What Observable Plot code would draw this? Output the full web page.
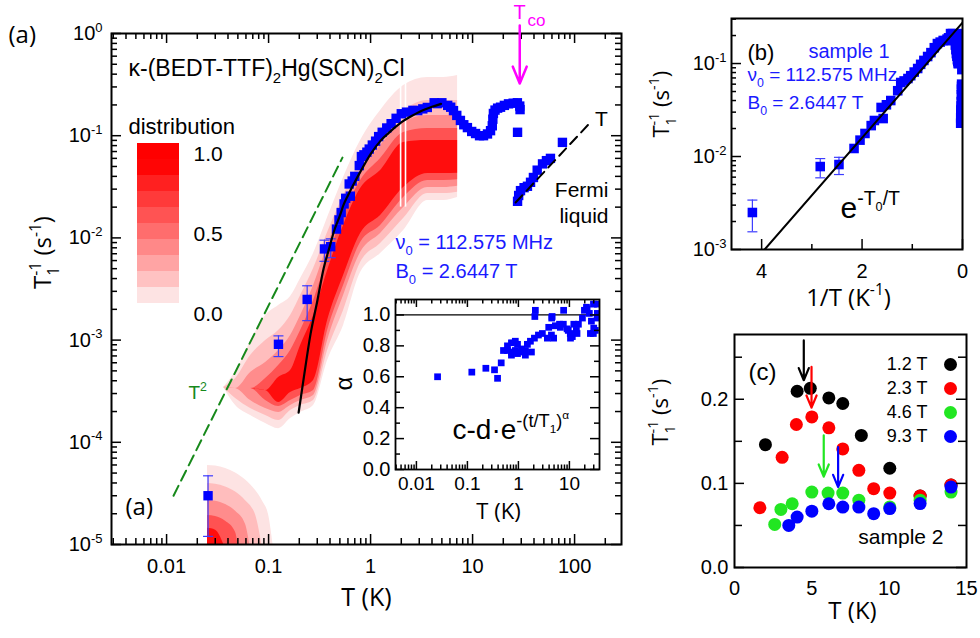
<!DOCTYPE html>
<html><head><meta charset="utf-8">
<script src="https://cdn.jsdelivr.net/npm/d3@7"></script>
<script src="https://cdn.jsdelivr.net/npm/@observablehq/plot@0.6"></script>
<style>
html,body{margin:0;padding:0;background:#fff;}
#chart{position:relative;width:980px;height:638px;overflow:hidden;background:#fff;}
#chart svg{position:absolute;left:0;top:0;}
</style></head><body><div id="chart"></div>
<script>
// ---------------- data ----------------
// sample 1: [T (K), 1/T1 (s^-1)]
const sample1 = [
 [0.0255,3.0e-5],[0.125,9.1e-4],[0.239,2.5e-3],[0.353,7.8e-3],[0.4065,8.2e-3],
 [0.463,1.22e-2],[0.49,1.5e-2],[0.515,1.77e-2],[0.55,2.15e-2],[0.57,2.44e-2],[0.633,2.56e-2],
 [0.617,3.37e-2],[0.66,3.6e-2],[0.70,4.0e-2],[0.775,5.1e-2],[0.813,6.25e-2],[0.86,6.5e-2],
 [0.92,6.9e-2],[0.97,7.4e-2],[1.04,8.1e-2],[1.12,8.84e-2],[1.2,9.8e-2],[1.3,0.108],[1.44,0.119],
 [1.59,0.131],[1.78,0.148],[2.0,0.164],[2.25,0.17],[2.6,0.177],[2.9,0.176],[3.25,0.183],[3.6,0.189],
 [4.2,0.21],[4.5,0.206],[5.0,0.21],[5.7,0.198],[6.1,0.19],[6.5,0.176],[7.0,0.158],[7.6,0.141],
 [8.2,0.128],[8.9,0.12],[9.8,0.11],[10.7,0.105],[11.7,0.1],[12.8,0.1],[14.0,0.104],[15.0,0.112],
 [15.6,0.125],[15.8,0.145],[16.0,0.165],[16.6,0.178],[17.6,0.186],[18.8,0.19],[20.5,0.198],
 [22.5,0.205],[25.0,0.208],[27.5,0.21],[29.0,0.195],[29.2,0.18],[27.6,0.108],
 [27.6,0.0228],[28.3,0.026],[29.5,0.029],[32.0,0.031],[34.5,0.032],[37.0,0.035],[39.5,0.039],
 [43.0,0.046],[48.5,0.053],[53.0,0.057],[58.0,0.060],[76.0,0.086]
];
// error bars: [T, low, high]
const sample1Err = [[0.0255,1.2e-5,4.7e-5],[0.125,6.9e-4,1.1e-3],[0.239,1.55e-3,3.4e-3],[0.353,5.9e-3,9.5e-3],[0.4065,6.4e-3,9.8e-3]];
// activated fit e^{-T0/T}
const fitA = [[0.197,1.95e-4],[0.22,4.1e-4],[0.258,1.15e-3],[0.3,2.4e-3],[0.346,5.0e-3],[0.4,8.4e-3],[0.434,1.13e-2],
 [0.5,1.65e-2],[0.543,2.1e-2],[0.6,2.6e-2],[0.666,3.2e-2],[0.8,4.5e-2],[1.0,6.6e-2],[1.25,8.9e-2],[1.5,0.106],
 [2.0,0.135],[2.5,0.155],[3.0,0.171],[4.0,0.192],[4.9,0.205]];
const fitB = [[3.94,1.0e-3],[0,0.275]];           // [1/T, rate]
const powerT2 = [[0.0117,3.0e-5],[0.53,6.1e-2]];  // T^2 guide
const fermiT = [[26.4,0.0222],[143,0.135]];       // T guide
const tcoArrow = [{T: 29, from: 1.2, to: 0.324}];
// relaxation-rate distribution, main branch: [T, lo1,hi1, lo2,hi2, lo3,hi3, lo4,hi4, lo5,hi5]
const distMain = [
 [0.0362,3.44e-4,3.44e-4,3.44e-4,3.44e-4,3.44e-4,3.44e-4,3.44e-4,3.44e-4,3.44e-4,3.44e-4],
 [0.0475,2.29e-4,4.93e-4,2.68e-4,4.21e-4,3.36e-4,3.36e-4,3.36e-4,3.36e-4,3.36e-4,3.36e-4],
 [0.0666,1.83e-4,9.69e-4,2.14e-4,7.07e-4,2.56e-4,4.82e-4,3.36e-4,3.36e-4,3.36e-4,3.36e-4],
 [0.0935,1.53e-4,1.74e-3,1.83e-4,9.9e-4,2.14e-4,6.04e-4,2.56e-4,4.21e-4,3.21e-4,3.21e-4],
 [0.1253,1.36e-4,2.18e-3,1.63e-4,1.24e-3,1.96e-4,7.91e-4,2.24e-4,5.64e-4,2.45e-4,4.31e-4],
 [0.1643,1.71e-4,2.67e-3,2.05e-4,1.74e-3,2.29e-4,1.11e-3,2.56e-4,7.91e-4,3.07e-4,5.04e-4],
 [0.206,1.96e-4,4.01e-3,2.29e-4,2.73e-3,2.56e-4,1.74e-3,2.87e-4,1.24e-3,3.36e-4,8.86e-4],
 [0.276,2.29e-4,7.04e-3,2.56e-4,5.02e-3,2.87e-4,3.42e-3,3.21e-4,2.44e-3,4.02e-4,1.74e-3],
 [0.379,6.32e-4,1.58e-2,7.91e-4,1.13e-2,9.9e-4,8.43e-3,1.24e-3,6.29e-3,1.555e-3,4.8e-3],
 [0.5435,1.39e-3,3.9e-2,1.95e-3,2.6e-2,2.73e-3,2.07e-2,3.42e-3,1.656e-2,4.29e-3,1.32e-2],
 [0.798,4.59e-3,8.97e-2,5.74e-3,5.72e-2,7.2e-3,4.36e-2,9.01e-3,3.64e-2,1.104e-2,3.04e-2],
 [1.253,7.04e-3,0.1764,8.81e-3,0.1124,1.104e-2,8.02e-2,1.322e-2,5.98e-2,1.656e-2,4.56e-2],
 [2.106,1.181e-2,0.31,1.548e-2,0.1764,1.98e-2,0.1346,2.48e-2,0.1075,3.11e-2,8.58e-2],
 [3.62,2.32e-2,0.371,2.72e-2,0.221,3.11e-2,0.1576,3.64e-2,0.1176,4.27e-2,8.97e-2],
 [5.2,2.32e-2,0.371,2.72e-2,0.221,3.11e-2,0.1576,3.64e-2,0.1176,4.27e-2,8.97e-2],
 [7.13,2.48e-2,0.388,2.8e-2,0.221,3.2e-2,0.1576,3.7e-2,0.1176,4.3e-2,8.97e-2]
];
// low-temperature branch (upper edge of each level): [T, hi]
const distBlob = [
 [[0.0252,5.93e-5],[0.0302,5.85e-5],[0.0379,5.54e-5],[0.0475,5.01e-5],[0.0595,4.27e-5],[0.0746,3.37e-5],[0.0873,2.65e-5],[0.1,1.95e-5],[0.112,9e-6]],
 [[0.0252,3.95e-5],[0.0302,3.89e-5],[0.0379,3.66e-5],[0.0475,3.26e-5],[0.0595,2.68e-5],[0.0746,1.94e-5],[0.0873,9e-6]],
 [[0.0252,2.69e-5],[0.0302,2.65e-5],[0.0379,2.46e-5],[0.0475,2.11e-5],[0.0595,1.57e-5],[0.0666,9e-6]],
 [[0.0252,1.92e-5],[0.0302,1.88e-5],[0.0379,1.69e-5],[0.0475,1.31e-5],[0.0508,9e-6]],
 [[0.0252,1.44e-5],[0.0302,1.38e-5],[0.0379,9e-6]]
];
const distGaps = [1.97, 2.2];
const distColors = ["#fde3e3","#ffbdbd","#ff8c8c","#ff5252","#ff0d0d"];
const legendLevels = [0.0,0.1,0.2,0.3,0.4,0.5,0.6,0.7,0.8,0.9];
const legendColors = ["#fde3e3","#ffc2c2","#ffa4a4","#ff8888","#ff6d6d","#ff5353","#ff3a3a","#ff2020","#ff0505","#ff0000"];
const legendTicks = [0.0, 0.5, 1.0];
// inset: stretch exponent alpha vs T
const alphaData = [
 [0.026,0.60],[0.122,0.63],[0.23,0.655],[0.34,0.645],[0.39,0.59],[0.46,0.69],
 [0.51,0.77],[0.61,0.77],[0.73,0.76],[0.87,0.77],[1.15,0.76],[1.37,0.77],
 [0.61,0.80],[0.73,0.82],[0.87,0.83],[0.96,0.81],[0.73,0.74],[0.96,0.75],[1.37,0.74],[1.8,0.76],
 [1.15,0.78],[1.5,0.81],[1.72,0.83],[2.06,0.85],[2.47,0.87],[2.95,0.88],[3.7,0.85],[4.44,0.87],
 [3.93,0.92],[4.9,0.85],[2.1,0.99],[2.15,1.03],[4.5,0.98],[4.58,0.99],
 [5.3,0.93],[6.4,0.94],[6.65,0.92],[7.6,0.94],[7.7,1.03],[9.0,0.91],[9.5,0.90],[10.4,0.88],[10.5,0.85],
 [11.4,0.86],[12.2,0.94],[13.7,0.90],[14.1,0.88],[15,0.94],[18,0.98],[19.7,1.03],[21.6,1.05],[22.2,1.04],
 [24.6,1.01],[25.8,0.88],[27,0.96],[29.5,0.88],[30,0.915],[32.2,0.90],[29.6,1.07],[35,0.98],[35.3,1.07],[35.3,1.01]
];
// sample 2 (panel c): [T, rate]
const fieldLabels = ["1.2 T","2.3 T","4.6 T","9.3 T"];
const fieldColors = ["#000000","#ff0000","#22e622","#0000ff"];
const s2_12 = [[2.0,0.146],[4.05,0.2095],[4.9,0.213],[6.1,0.2016],[7.0,0.195],[8.2,0.157],[10.04,0.118],[12.0,0.085],[14.0,0.098]];
const s2_23 = [[1.64,0.071],[3.08,0.131],[4.0,0.170],[5.0,0.179],[6.1,0.166],[7.0,0.141],[8.04,0.1155],[9.0,0.0937],[10.04,0.0885],[12.0,0.085],[14.0,0.098]];
const s2_46 = [[2.6,0.0512],[3.0,0.069],[3.73,0.0758],[5.0,0.0897],[6.05,0.0885],[7.0,0.0885],[8.04,0.080],[10.04,0.072],[12.0,0.080],[14.0,0.0897]];
const s2_93 = [[3.51,0.050],[4.05,0.060],[5.0,0.067],[6.1,0.0758],[7.0,0.0718],[8.04,0.0718],[9.0,0.064],[10.04,0.070],[12.0,0.076],[14.0,0.0956]];
const fieldSeries = [s2_12, s2_23, s2_46, s2_93];
const fieldArrows = [
 {T:4.48, from:0.270, to:0.2226, color:"#000000"},
 {T:4.98, from:0.2385, to:0.19, color:"#ff0000"},
 {T:5.77, from:0.157, to:0.108, color:"#22e622"},
 {T:6.7, from:0.143, to:0.0956, color:"#0000ff"}
];
// ticks
const xMajorA = [0.01,0.1,1,10,100];
const yMajorA = [1e-5,1e-4,1e-3,1e-2,1e-1,1];
const insetXMajor = [0.01,0.1,1,10];
const insetYMajor = [0,0.2,0.4,0.6,0.8,1.0];
const insetYMinor = [0.1,0.3,0.5,0.7,0.9];
const bXMajor = [0,2,4], bXMinor = [1,3];
const bYMajor = [1e-3,1e-2,1e-1];
const cXMajor = [0,5,10,15];
const cYMajor = [0,0.1,0.2], cYMinor = [0.05,0.15,0.25];

// ---------------- helpers ----------------
const W = 980, H = 638;
const SANS = "'Liberation Sans', Arial, Helvetica, sans-serif";
const OPEN = "'Open Sans', 'Liberation Sans', sans-serif";
const BLUE = "#0000ff", ERR = "#3c3cff", TXTBLUE = "#1a1aff", GREEN = "#17891b", MAGENTA = "#ff00ff";
const baseStyle = {background: "transparent", fontFamily: SANS, fontSize: "20px", color: "black", overflow: "visible"};
const cap = {draw(ctx, size) { const w = Math.sqrt(size / Math.PI); ctx.moveTo(-w, 0); ctx.lineTo(w, 0); }};
function logMinor(lo, hi) {
  const out = [];
  for (let e = Math.floor(Math.log10(lo)); e <= Math.ceil(Math.log10(hi)); e++)
    for (let m = 2; m <= 9; m++) { const v = m * Math.pow(10, e); if (v >= lo && v <= hi) out.push(v); }
  return out;
}
function tx(vals, len, innerH, side) {
  return Plot.ruleX(vals, {x: d => d, insetTop: side === "bottom" ? innerH - len : 0, insetBottom: side === "top" ? innerH - len : 0, stroke: "black", strokeWidth: 1.5});
}
function ty(vals, len, innerW, side) {
  return Plot.ruleY(vals, {y: d => d, insetLeft: side === "right" ? innerW - len : 0, insetRight: side === "left" ? innerW - len : 0, stroke: "black", strokeWidth: 1.5});
}
function label(str, o) { return Plot.text([str], {text: d => d, ...o}); }
const pow10 = d => `10^{${Math.round(Math.log10(d))}}`;

function richify(svg) {
  for (const t of svg.querySelectorAll("text")) {
    if (t.children.length) continue;
    const s = t.textContent;
    if (!/[\^_]\{/.test(s)) continue;
    const base = parseFloat(getComputedStyle(t).fontSize) || 16;
    const runs = [], stack = [{size: base, off: 0, group: null}];
    let buf = "", justClosed = null;
    const flush = () => { if (buf) { const st = stack[stack.length - 1]; runs.push({text: buf, size: st.size, off: st.off, group: st.group}); buf = ""; } };
    for (let i = 0; i < s.length; i++) {
      const c = s[i];
      if ((c === "^" || c === "_") && s[i + 1] === "{") {
        flush();
        const st = stack[stack.length - 1];
        const g = {kind: c, stackOn: (c === "^" && justClosed && justClosed.kind === "_") ? justClosed : null, first: null};
        stack.push({size: st.size * 0.65, off: st.off + (c === "^" ? -0.42 * st.size : 0.33 * st.size), group: g});
        justClosed = null; i++; continue;
      }
      if (c === "}" && stack.length > 1) { flush(); justClosed = stack.pop().group; continue; }
      justClosed = null; buf += c;
    }
    flush();
    while (t.firstChild) t.removeChild(t.firstChild);
    let prev = 0; const els = [];
    for (const r of runs) {
      const ts = document.createElementNS("http://www.w3.org/2000/svg", "tspan");
      ts.textContent = r.text;
      ts.setAttribute("font-size", r.size.toFixed(2));
      const dy = r.off - prev;
      if (Math.abs(dy) > 1e-6) ts.setAttribute("dy", dy.toFixed(2));
      prev = r.off;
      t.appendChild(ts); els.push(ts);
      if (r.group && !r.group.first) r.group.first = ts;
    }
    runs.forEach((r, i) => {
      const g = r.group;
      if (g && g.stackOn && g.first === els[i]) {
        let w = 0;
        runs.forEach((q, j) => { if (q.group === g.stackOn) w += els[j].getComputedTextLength(); });
        els[i].setAttribute("dx", (-w).toFixed(2));
      }
    });
  }
}

// ---------------- panel (a) ----------------
const xDomA = [Math.pow(10, -2.54), Math.pow(10, 2.46)];
const yDomA = [1e-5, 1];
const plotA = Plot.plot({
  width: W, height: H, marginTop: 33, marginLeft: 111, marginRight: 359, marginBottom: 94,
  style: baseStyle,
  x: {type: "log", domain: xDomA, axis: null},
  y: {type: "log", domain: yDomA, axis: null},
  marks: [
    ...distColors.map((c, k) => Plot.areaY(distMain, {x: d => d[0], y1: d => d[1 + 2 * k], y2: d => d[2 + 2 * k], fill: c, curve: "monotone-x", clip: true})),
    ...distBlob.map((lvl, k) => Plot.areaY(lvl, {x: d => d[0], y1: 1e-6, y2: d => d[1], fill: distColors[k], curve: "monotone-x", clip: true})),
    Plot.ruleX(distGaps, {x: d => d, y1: 0.02, y2: 0.33, stroke: "white", strokeWidth: 1.6}),
    Plot.line(powerT2, {x: d => d[0], y: d => d[1], stroke: GREEN, strokeWidth: 2, strokeDasharray: "11,6"}),
    Plot.ruleX(sample1Err, {x: d => d[0], y1: d => d[1], y2: d => d[2], stroke: ERR, strokeWidth: 1.2}),
    Plot.dot(sample1Err, {x: d => d[0], y: d => d[1], symbol: cap, r: 5, stroke: ERR, strokeWidth: 1.2, fill: "none"}),
    Plot.dot(sample1Err, {x: d => d[0], y: d => d[2], symbol: cap, r: 5, stroke: ERR, strokeWidth: 1.2, fill: "none"}),
    Plot.dot(sample1, {x: d => d[0], y: d => d[1], symbol: "square", r: 5.3, fill: BLUE, clip: true}),
    Plot.line(fitA, {x: d => d[0], y: d => d[1], stroke: "black", strokeWidth: 2.2, curve: "monotone-x"}),
    Plot.line(fermiT, {x: d => d[0], y: d => d[1], stroke: "black", strokeWidth: 2, strokeDasharray: "10,6"}),
    Plot.frame({stroke: "black", strokeWidth: 2}),
    tx(xMajorA, 10, 511, "bottom"), tx(xMajorA, 10, 511, "top"),
    tx(logMinor(xDomA[0], xDomA[1]), 6, 511, "bottom"), tx(logMinor(xDomA[0], xDomA[1]), 6, 511, "top"),
    ty(yMajorA, 10, 510, "left"), ty(yMajorA, 10, 510, "right"),
    ty(logMinor(1e-5, 1), 6, 510, "left"), ty(logMinor(1e-5, 1), 6, 510, "right"),
    Plot.axisX({ticks: xMajorA, tickFormat: d => String(d), tickSize: 0, tickPadding: 14, fontSize: 20, fontFamily: SANS, label: null}),
    Plot.axisY({ticks: yMajorA, tickFormat: pow10, tickSize: 0, tickPadding: 9, fontSize: 20, fontFamily: SANS, label: null}),
    label("(a)", {frameAnchor: "top-left", dx: -103, dy: -8, textAnchor: "start", fontSize: 24, fontFamily: OPEN}),
    label("κ-(BEDT-TTF)_{2}Hg(SCN)_{2}Cl", {frameAnchor: "top-left", dx: 17, dy: 42, lineAnchor: "bottom", textAnchor: "start", fontSize: 23}),
    label("distribution", {frameAnchor: "top-left", dx: 17, dy: 100, lineAnchor: "bottom", textAnchor: "start", fontSize: 22}),
    label("ν_{0} = 112.575 MHz", {frameAnchor: "top-left", dx: 284, dy: 215, lineAnchor: "bottom", textAnchor: "start", fontSize: 20, fill: TXTBLUE}),
    label("B_{0} = 2.6447 T", {frameAnchor: "top-left", dx: 284, dy: 244, lineAnchor: "bottom", textAnchor: "start", fontSize: 20, fill: TXTBLUE}),
    label("Fermi", {frameAnchor: "top-left", dx: 497, dy: 163, lineAnchor: "bottom", textAnchor: "end", fontSize: 21}),
    label("liquid", {frameAnchor: "top-left", dx: 497, dy: 189, lineAnchor: "bottom", textAnchor: "end", fontSize: 21}),
    label("T", {frameAnchor: "top-left", dx: 490, dy: 92, lineAnchor: "bottom", textAnchor: "middle", fontSize: 21}),
    label("(a)", {frameAnchor: "bottom-left", dx: 14, dy: -30, textAnchor: "start", fontSize: 24, fontFamily: OPEN}),
    label("T^{2}", {frameAnchor: "top-left", dx: 77, dy: 365, lineAnchor: "bottom", textAnchor: "start", fontSize: 19, fill: GREEN}),
    label("T", {frameAnchor: "top-left", dx: 402, dy: -15, lineAnchor: "bottom", textAnchor: "start", fontSize: 20, fill: MAGENTA}),
    label("co", {frameAnchor: "top-left", dx: 416, dy: -8, lineAnchor: "bottom", textAnchor: "start", fontSize: 17, fill: MAGENTA}),
    label("T (K)", {frameAnchor: "bottom", dx: 0, dy: 61, fontSize: 25, fontFamily: OPEN}),
    label("T_{1}^{-1} (s^{-1})", {frameAnchor: "left", dx: -68, dy: 0, rotate: -90, fontSize: 24, fontFamily: OPEN}),
    Plot.arrow(tcoArrow, {x1: "T", x2: "T", y1: "from", y2: "to", stroke: MAGENTA, strokeWidth: 2.5, headLength: 11, headAngle: 45})
  ]
});

// colour bar legend of the distribution
const plotLegend = Plot.plot({
  width: W, height: H, margin: 0, style: baseStyle,
  x: {domain: [0, 1], range: [137, 179], axis: null},
  y: {domain: [0, 1], range: [303, 143], axis: null},
  color: {type: "identity"},
  marks: [
    Plot.rect(legendLevels, {x1: 0, x2: 1, y1: d => d, y2: d => d + 0.1, fill: (d, i) => legendColors[i]}),
    Plot.text(legendTicks, {x: 1, y: d => d, dx: 14, dy: 3, text: d => d.toFixed(1), lineAnchor: "top", textAnchor: "start", fontSize: 21})
  ]
});

// ---------------- inset ----------------
const xDomI = [Math.pow(10, -2.41), Math.pow(10, 1.59)];
const plotInset = Plot.plot({
  width: W, height: H, marginTop: 299, marginLeft: 395, marginRight: 381, marginBottom: 169,
  style: baseStyle,
  x: {type: "log", domain: xDomI, axis: null},
  y: {domain: [0, 1.1], axis: null},
  marks: [
    Plot.ruleY([1], {stroke: "black", strokeWidth: 1.2}),
    Plot.dot(alphaData, {x: d => d[0], y: d => d[1], symbol: "square", r: 3.8, fill: BLUE, clip: true}),
    Plot.frame({stroke: "black", strokeWidth: 1.8}),
    tx(insetXMajor, 8, 170, "bottom"), tx(insetXMajor, 8, 170, "top"),
    tx(logMinor(xDomI[0], xDomI[1]), 4.5, 170, "bottom"), tx(logMinor(xDomI[0], xDomI[1]), 4.5, 170, "top"),
    ty(insetYMajor, 9, 204, "left"), ty(insetYMajor, 9, 204, "right"),
    ty(insetYMinor, 5, 204, "left"), ty(insetYMinor, 5, 204, "right"),
    Plot.axisX({ticks: insetXMajor, tickFormat: d => String(d), tickSize: 0, tickPadding: 7, fontSize: 19, fontFamily: SANS, label: null}),
    Plot.axisY({ticks: insetYMajor, tickFormat: d => d.toFixed(1), tickSize: 0, tickPadding: 5, fontSize: 20, fontFamily: SANS, label: null}),
    label("T (K)", {frameAnchor: "bottom", dx: 1, dy: 49, fontSize: 22, fontFamily: OPEN}),
    label("α", {frameAnchor: "left", dx: -51, dy: 6, rotate: -90, fontSize: 24}),
    label("c-d·e^{-(t/T_{1})^{α}}", {frameAnchor: "bottom-left", dx: 57, dy: -31, lineAnchor: "bottom", textAnchor: "start", fontSize: 28})
  ]
});

// ---------------- panel (b) ----------------
const yDomB = [1e-3, 0.305];
const plotB = Plot.plot({
  width: W, height: H, marginTop: 18, marginLeft: 731, marginRight: 18, marginBottom: 389,
  style: baseStyle,
  x: {domain: [4.6, 0], axis: null},
  y: {type: "log", domain: yDomB, axis: null},
  marks: [
    Plot.ruleX(sample1Err.filter(d => d[0] >= 0.2), {x: d => 1 / d[0], y1: d => d[1], y2: d => d[2], stroke: ERR, strokeWidth: 1.2}),
    Plot.dot(sample1Err.filter(d => d[0] >= 0.2), {x: d => 1 / d[0], y: d => d[1], symbol: cap, r: 5, stroke: ERR, strokeWidth: 1.2, fill: "none"}),
    Plot.dot(sample1Err.filter(d => d[0] >= 0.2), {x: d => 1 / d[0], y: d => d[2], symbol: cap, r: 5, stroke: ERR, strokeWidth: 1.2, fill: "none"}),
    Plot.dot(sample1.filter(d => d[0] >= 0.2), {x: d => 1 / d[0], y: d => d[1], symbol: "square", r: 5.4, fill: BLUE, clip: true}),
    Plot.line(fitB, {x: d => d[0], y: d => d[1], stroke: "black", strokeWidth: 2, clip: true}),
    Plot.frame({stroke: "black", strokeWidth: 2}),
    tx(bXMajor, 10, 231, "bottom"), tx(bXMinor, 5, 231, "bottom"),
    ty(bYMajor, 10, 231, "left"), ty(logMinor(yDomB[0], yDomB[1]), 5, 231, "left"),
    Plot.axisX({ticks: bXMajor, tickFormat: d => String(d), tickSize: 0, tickPadding: 14, fontSize: 20, fontFamily: SANS, label: null}),
    Plot.axisY({ticks: bYMajor, tickFormat: pow10, tickSize: 0, tickPadding: 5, fontSize: 20, fontFamily: SANS, label: null}),
    label("(b)", {frameAnchor: "top-left", dx: 16, dy: 26, textAnchor: "start", fontSize: 22}),
    label("sample 1", {frameAnchor: "top-left", dx: 77, dy: 25, textAnchor: "start", fontSize: 20, fill: TXTBLUE}),
    label("ν_{0} = 112.575 MHz", {frameAnchor: "top-left", dx: 16, dy: 62, lineAnchor: "bottom", textAnchor: "start", fontSize: 19, fill: TXTBLUE}),
    label("B_{0} = 2.6447 T", {frameAnchor: "top-left", dx: 16, dy: 90, lineAnchor: "bottom", textAnchor: "start", fontSize: 19, fill: TXTBLUE}),
    label("e^{-T_{0}/T}", {frameAnchor: "top-left", dx: 109, dy: 199, lineAnchor: "bottom", textAnchor: "start", fontSize: 30}),
    label("1/T (K^{-1})", {frameAnchor: "bottom", dx: 1.5, dy: 56, fontSize: 24, fontFamily: OPEN}),
    label("T_{1}^{-1} (s^{-1})", {frameAnchor: "left", dx: -70, dy: 3.5, rotate: -90, fontSize: 22, fontFamily: OPEN})
  ]
});

// ---------------- panel (c) ----------------
const plotC = Plot.plot({
  width: W, height: H, marginTop: 334, marginLeft: 734, marginRight: 14, marginBottom: 71,
  style: baseStyle,
  x: {domain: [0, 15], axis: null},
  y: {domain: [0, 0.277], axis: null},
  color: {type: "identity"},
  marks: [
    ...fieldSeries.map((s, i) => Plot.dot(s, {x: d => d[0], y: d => d[1], r: 6.5, fill: fieldColors[i]})),
    Plot.arrow(fieldArrows, {x1: "T", x2: "T", y1: "from", y2: "to", stroke: "color", strokeWidth: 2.2, headLength: 9, headAngle: 45}),
    Plot.frame({stroke: "black", strokeWidth: 2}),
    ty(cYMajor, 10, 232, "left"), ty(cYMajor, 10, 232, "right"),
    ty(cYMinor, 8, 232, "left"), ty(cYMinor, 8, 232, "right"),
    Plot.axisX({ticks: cXMajor, tickFormat: d => String(d), tickSize: 0, tickPadding: 13, fontSize: 20, fontFamily: SANS, label: null}),
    Plot.axisY({ticks: cYMajor, tickFormat: d => d.toFixed(1), tickSize: 0, tickPadding: 6, fontSize: 20, fontFamily: SANS, label: null}),
    label("(c)", {frameAnchor: "top-left", dx: 14, dy: 28, textAnchor: "start", fontSize: 24}),
    label("sample 2", {frameAnchor: "bottom-right", dx: -23, dy: -24, textAnchor: "end", fontSize: 21}),
    label("T (K)", {frameAnchor: "bottom", dx: 2, dy: 51, fontSize: 24, fontFamily: OPEN}),
    label("T_{1}^{-1} (s^{-1})", {frameAnchor: "left", dx: -74, dy: -5.5, rotate: -90, fontSize: 22, fontFamily: OPEN})
  ]
});

// legend of panel (c)
const plotCLegend = Plot.plot({
  width: W, height: H, margin: 0, style: baseStyle,
  x: {domain: [0, 1], range: [927, 950], axis: null},
  y: {type: "point", domain: fieldLabels, range: [363, 437], padding: 0, axis: null},
  color: {type: "identity"},
  marks: [
    Plot.text(fieldLabels, {x: 0, y: d => d, text: d => d, textAnchor: "end", fontSize: 18}),
    Plot.dot(fieldLabels, {x: 1, y: d => d, r: 6.5, fill: (d, i) => fieldColors[i]})
  ]
});

const chart = document.getElementById("chart");
for (const svg of [plotA, plotLegend, plotInset, plotB, plotC, plotCLegend]) {
  chart.append(svg);
  richify(svg);
}
</script></body></html>
